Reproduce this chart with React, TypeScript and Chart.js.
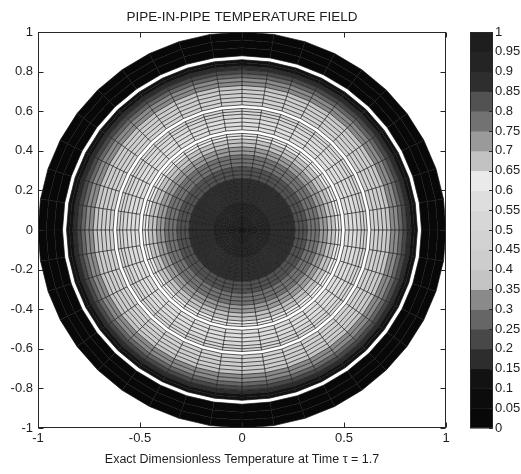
import React, { useEffect, useRef } from "react";
import { Chart, registerables } from "chart.js";

Chart.register(...registerables);

// ---- data ----
const chartTitle = "PIPE-IN-PIPE TEMPERATURE FIELD";
const xTitle = "Exact Dimensionless Temperature at Time \u03C4 = 1.7";
const xTicks = [-1, -0.5, 0, 0.5, 1];
const yTicks = [-1, -0.8, -0.6, -0.4, -0.2, 0, 0.2, 0.4, 0.6, 0.8, 1];
const colorbarTicks = [0, 0.05, 0.1, 0.15, 0.2, 0.25, 0.3, 0.35, 0.4, 0.45, 0.5, 0.55, 0.6, 0.65, 0.7, 0.75, 0.8, 0.85, 0.9, 0.95, 1];
// gray intensity of each colormap level (level k spans colorbarTicks[k]..colorbarTicks[k+1])
const levelGrays = [8, 12, 18, 45, 72, 102, 138, 196, 205, 210, 215, 222, 234, 194, 154, 114, 82, 46, 36, 30];

// inner pipe region
const innerEdges = [0, 0.02, 0.04, 0.06, 0.08, 0.1, 0.12, 0.14, 0.16, 0.18, 0.2, 0.22, 0.24, 0.26, 0.28, 0.3, 0.32, 0.34, 0.36, 0.38, 0.4, 0.42, 0.44, 0.46, 0.475, 0.488];
const innerTemps = [0.97, 0.96, 0.955, 0.945, 0.935, 0.925, 0.915, 0.895, 0.89, 0.88, 0.87, 0.86, 0.855, 0.835, 0.82, 0.805, 0.785, 0.77, 0.755, 0.74, 0.72, 0.695, 0.675, 0.645, 0.63];
// annulus region
const annulusEdges = [0.506, 0.525, 0.545, 0.565, 0.585, 0.6, 0.614];
const annulusTemps = [0.595, 0.58, 0.565, 0.545, 0.53, 0.515];
// outer field region
const outerEdges = [0.632, 0.65, 0.67, 0.69, 0.71, 0.73, 0.75, 0.77, 0.79, 0.81, 0.83, 0.845, 0.86];
const outerTemps = [0.49, 0.46, 0.43, 0.405, 0.37, 0.34, 0.31, 0.27, 0.22, 0.18, 0.13, 0.11];
// outer pipe wall
const wallEdges = [0.88, 0.92, 0.96, 1.0];
const wallTemps = [0.03, 0.02, 0.01];

const angularDivisions = 40;

const zones = [
  { edges: innerEdges, temps: innerTemps },
  { edges: annulusEdges, temps: annulusTemps },
  { edges: outerEdges, temps: outerTemps },
  { edges: wallEdges, temps: wallTemps },
];

const FONT = "'Liberation Sans', Arial, Helvetica, sans-serif";
const TEXT = "#1e1e1e";
const AXIS = "#262626";

function grayFor(t: number) {
  let k = Math.floor(t / 0.05);
  if (k < 0) k = 0;
  if (k > levelGrays.length - 1) k = levelGrays.length - 1;
  const g = levelGrays[k];
  return `rgb(${g},${g},${g})`;
}

const fieldPlugin = {
  id: "pipeField",
  beforeDatasetsDraw(chart: any) {
    const { ctx, chartArea } = chart;
    const xs = chart.scales.x;
    const ys = chart.scales.y;
    const px = (r: number, a: number) => [xs.getPixelForValue(r * Math.cos(a)), ys.getPixelForValue(r * Math.sin(a))];
    const N = angularDivisions;
    const step = (2 * Math.PI) / N;
    ctx.save();
    ctx.beginPath();
    ctx.rect(chartArea.left, chartArea.top, chartArea.width, chartArea.height);
    ctx.clip();
    for (const z of zones) {
      for (let i = 0; i < z.temps.length; i++) {
        const r0 = z.edges[i];
        const r1 = z.edges[i + 1];
        ctx.fillStyle = grayFor(z.temps[i]);
        for (let j = 0; j < N; j++) {
          const a0 = j * step;
          const a1 = (j + 1) * step;
          const p1 = px(r0, a0), p2 = px(r1, a0), p3 = px(r1, a1), p4 = px(r0, a1);
          ctx.beginPath();
          ctx.moveTo(p1[0], p1[1]);
          ctx.lineTo(p2[0], p2[1]);
          ctx.lineTo(p3[0], p3[1]);
          ctx.lineTo(p4[0], p4[1]);
          ctx.closePath();
          ctx.fill();
        }
      }
    }
    ctx.strokeStyle = "#141414";
    ctx.lineWidth = 0.7;
    for (const z of zones) {
      for (const r of z.edges) {
        if (r <= 0) continue;
        ctx.beginPath();
        for (let j = 0; j <= N; j++) {
          const p = px(r, j * step);
          if (j === 0) ctx.moveTo(p[0], p[1]);
          else ctx.lineTo(p[0], p[1]);
        }
        ctx.closePath();
        ctx.stroke();
      }
      const rin = z.edges[0];
      const rout = z.edges[z.edges.length - 1];
      ctx.beginPath();
      for (let j = 0; j < N; j++) {
        const a = px(rin, j * step);
        const b = px(rout, j * step);
        ctx.moveTo(a[0], a[1]);
        ctx.lineTo(b[0], b[1]);
      }
      ctx.stroke();
    }
    ctx.restore();
  },
};

const framePlugin = {
  id: "frame",
  afterDraw(chart: any) {
    const { ctx, chartArea } = chart;
    const xs = chart.scales.x;
    const ys = chart.scales.y;
    const L = Math.round(chartArea.left) + 0.5;
    const R = Math.round(chartArea.right) - 0.5;
    const T = Math.round(chartArea.top) + 0.5;
    const B = Math.round(chartArea.bottom) - 0.5;
    const tl = 5;
    ctx.save();
    ctx.strokeStyle = AXIS;
    ctx.lineWidth = 1;
    ctx.strokeRect(L, T, R - L, B - T);
    ctx.beginPath();
    for (const v of xTicks) {
      const x = Math.round(xs.getPixelForValue(v)) + 0.5;
      ctx.moveTo(x, B);
      ctx.lineTo(x, B - tl);
      ctx.moveTo(x, T);
      ctx.lineTo(x, T + tl);
    }
    for (const v of yTicks) {
      const y = Math.round(ys.getPixelForValue(v)) + 0.5;
      ctx.moveTo(L, y);
      ctx.lineTo(L + tl, y);
      ctx.moveTo(R, y);
      ctx.lineTo(R - tl, y);
    }
    ctx.stroke();

    // colorbar
    const cb = chart.scales.cb;
    const cx0 = Math.round(cb.left) + 24;
    const cw = 23;
    for (let k = 0; k < levelGrays.length; k++) {
      const yLo = cb.getPixelForValue(colorbarTicks[k]);
      const yHi = cb.getPixelForValue(colorbarTicks[k + 1]);
      const g = levelGrays[k];
      ctx.fillStyle = `rgb(${g},${g},${g})`;
      ctx.fillRect(cx0, yHi, cw, yLo - yHi + 0.5);
    }
    const cTop = Math.round(cb.getPixelForValue(1)) + 0.5;
    const cBot = Math.round(cb.getPixelForValue(0)) - 0.5;
    ctx.strokeStyle = AXIS;
    ctx.strokeRect(cx0 + 0.5, cTop, cw - 1, cBot - cTop);
    ctx.beginPath();
    for (const v of colorbarTicks) {
      const y = Math.round(cb.getPixelForValue(v)) + 0.5;
      ctx.moveTo(cx0 + cw - 0.5, y);
      ctx.lineTo(cx0 + cw - 4, y);
    }
    ctx.stroke();

    // title, centred over the plot area
    ctx.fillStyle = TEXT;
    ctx.font = `13.5px ${FONT}`;
    ctx.textAlign = "center";
    ctx.textBaseline = "middle";
    ctx.fillText(chartTitle, (chartArea.left + chartArea.right) / 2, chartArea.top - 15);
    ctx.restore();
  },
};

const fmt = (v: any) => `${+Number(v).toFixed(2)}`;

export default function App() {
  const ref = useRef<HTMLCanvasElement | null>(null);
  useEffect(() => {
    if (!ref.current) return;
    const tickFont = { family: FONT, size: 13 };
    const noGrid = { display: false, drawTicks: false, tickLength: 0 };
    const chart = new Chart(ref.current, {
      type: "scatter",
      data: { datasets: [{ data: [] }] },
      options: {
        animation: false,
        responsive: false,
        devicePixelRatio: 1,
        layout: { padding: { top: 32, left: 0, right: 0, bottom: 0 }, autoPadding: false },
        plugins: {
          legend: { display: false },
          tooltip: { enabled: false },
          title: { display: false },
        },
        scales: {
          x: {
            type: "linear",
            position: "bottom",
            min: -1,
            max: 1,
            afterBuildTicks: (s: any) => {
              s.ticks = xTicks.map((v) => ({ value: v }));
            },
            afterFit: (s: any) => {
              s.height = 46;
              s.paddingLeft = 0;
              s.paddingRight = 0;
              s.paddingTop = 0;
              s.paddingBottom = 0;
            },
            grid: noGrid,
            border: { display: false },
            ticks: { font: tickFont, color: TEXT, padding: 3, maxRotation: 0, autoSkip: false, callback: fmt },
            title: {
              display: true,
              text: xTitle,
              color: TEXT,
              font: { family: FONT, size: 12.5 },
              padding: { top: 0, bottom: 6.5 },
            },
          },
          y: {
            type: "linear",
            position: "left",
            min: -1,
            max: 1,
            afterBuildTicks: (s: any) => {
              s.ticks = yTicks.map((v) => ({ value: v }));
            },
            afterFit: (s: any) => {
              s.width = 38;
              s.paddingTop = 0;
              s.paddingBottom = 0;
              s.paddingLeft = 0;
              s.paddingRight = 0;
            },
            grid: noGrid,
            border: { display: false },
            ticks: { font: tickFont, color: TEXT, padding: 5, autoSkip: false, callback: fmt },
          },
          cb: {
            type: "linear",
            position: "right",
            min: 0,
            max: 1,
            afterBuildTicks: (s: any) => {
              s.ticks = colorbarTicks.map((v) => ({ value: v }));
            },
            afterFit: (s: any) => {
              s.width = 75;
              s.paddingTop = 0;
              s.paddingBottom = 0;
              s.paddingLeft = 0;
              s.paddingRight = 0;
            },
            grid: noGrid,
            border: { display: false },
            ticks: { font: tickFont, color: TEXT, padding: 49, autoSkip: false, callback: fmt },
          },
        },
      } as any,
      plugins: [fieldPlugin, framePlugin],
    });
    return () => chart.destroy();
  }, []);
  return (
    <div style={{ position: "absolute", left: 0, top: 0, width: 521, height: 474, background: "#fff" }}>
      <canvas ref={ref} width={521} height={474} style={{ display: "block" }} />
    </div>
  );
}
